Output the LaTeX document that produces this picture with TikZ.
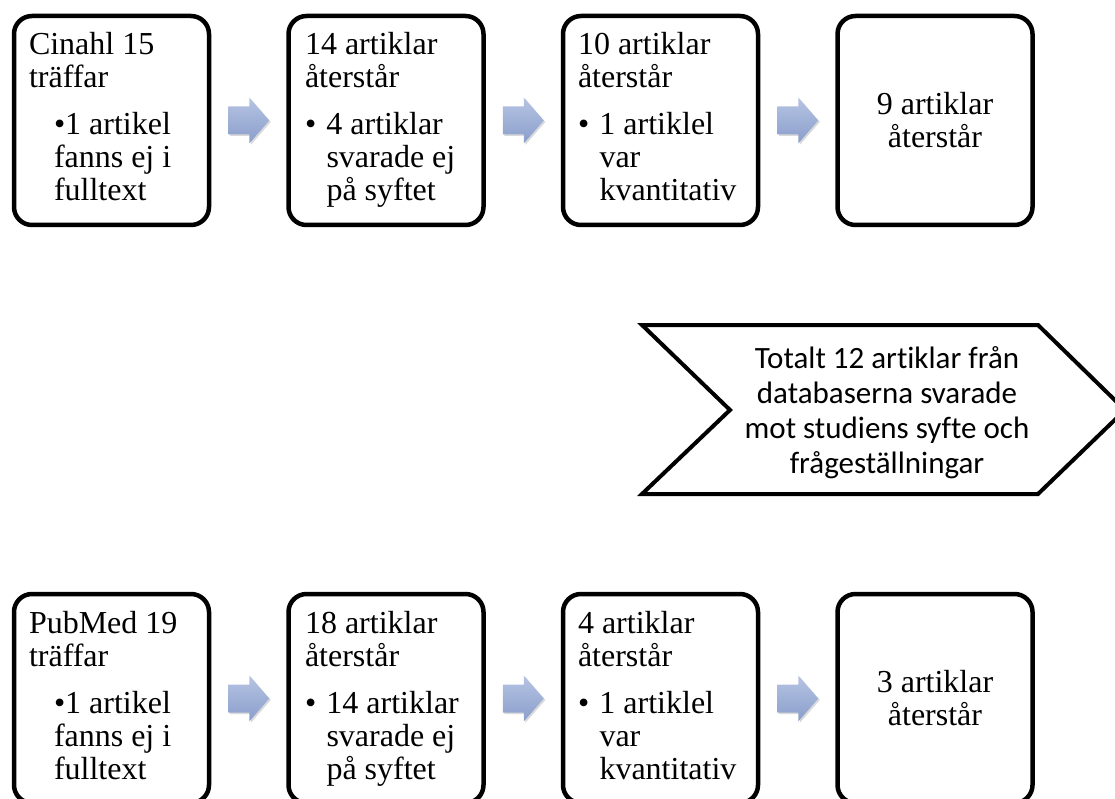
\documentclass[tikz,border=0pt]{standalone}
\usepackage{fontspec}
\setmainfont{Liberation Serif}
\newfontfamily\calibrifont[Ligatures=NoCommon]{Carlito}
\usetikzlibrary{calc,shadows}
\definecolor{arrtop}{RGB}{182,196,227}
\definecolor{arrbot}{RGB}{138,158,203}
\newcommand{\boxfont}{\fontsize{32}{33}\selectfont}
\newcommand{\bulA}[3]{\par\vspace{14pt}\leftskip=25pt •#1\\#2\\#3}
\newcommand{\bulB}[3]{\par\vspace{14pt}\leftskip=21.5pt\hspace*{-21.5pt}\makebox[21.5pt][l]{•}#1\\#2\\#3}
\newcommand{\steptext}[3]{\parbox[t]{185pt}{\boxfont\raggedright #1\\#2#3}}
\tikzset{
  x=1pt, y=-1pt,
  stepbox/.style={draw=black, line width=4.5pt, rounded corners=18pt, minimum width=195pt, minimum height=209pt, inner sep=0pt, outer sep=0pt, fill=white},
  steptxt/.style={anchor=base west, inner sep=0pt, outer sep=0pt},
  endtxt/.style={align=center, inner sep=0pt, font=\boxfont},
  arrowfill/.style={top color=arrtop, bottom color=arrbot, draw=none, drop shadow={shadow xshift=1.5pt, shadow yshift=-1.5pt, opacity=0.25, fill=black!60}},
  barrow/.pic={\path[arrowfill] (-20.5,-14) -- (0.5,-14) -- (0.5,-23) -- (20.5,0) -- (0.5,23) -- (0.5,14) -- (-20.5,14) -- cycle;}
}
\begin{document}
\begin{tikzpicture}
\useasboundingbox (0,0) rectangle (1115,799);
\clip (0,0) rectangle (1115,799);
% top row
\node[stepbox] (t1) at (111.5,120.5) {};
\node[stepbox] (t2) at (386,120.5) {};
\node[stepbox] (t3) at (660.5,120.5) {};
\node[stepbox] (t4) at (935,120.5) {};
\node[steptxt] (t1x) at ($(t1.north west)+(15,39)$) {\steptext{Cinahl 15}{träffar}{\bulA{1 artikel}{fanns ej i}{fulltext}}};
\node[steptxt] (t2x) at ($(t2.north west)+(16.5,39)$) {\steptext{14 artiklar}{återstår}{\bulB{4 artiklar}{svarade ej}{på syftet}}};
\node[steptxt] (t3x) at ($(t3.north west)+(15,39)$) {\steptext{10 artiklar}{återstår}{\bulB{1 artiklel}{var}{kvantitativ}}};
\node[endtxt] (t4x) at (t4.center) {9 artiklar\\återstår};
\path ($(t1.east)!0.5!(t2.west)$) pic {barrow};
\path ($(t2.east)!0.5!(t3.west)$) pic {barrow};
\path ($(t3.east)!0.5!(t4.west)$) pic {barrow};
% bottom row
\node[stepbox] (b1) at (111.5,698.5) {};
\node[stepbox] (b2) at (386,698.5) {};
\node[stepbox] (b3) at (660.5,698.5) {};
\node[stepbox] (b4) at (935,698.5) {};
\node[steptxt] (b1x) at ($(b1.north west)+(15,39)$) {\steptext{PubMed 19}{träffar}{\bulA{1 artikel}{fanns ej i}{fulltext}}};
\node[steptxt] (b2x) at ($(b2.north west)+(16.5,39)$) {\steptext{18 artiklar}{återstår}{\bulB{14 artiklar}{svarade ej}{på syftet}}};
\node[steptxt] (b3x) at ($(b3.north west)+(15,39)$) {\steptext{4 artiklar}{återstår}{\bulB{1 artiklel}{var}{kvantitativ}}};
\node[endtxt] (b4x) at (b4.center) {3 artiklar\\återstår};
\path ($(b1.east)!0.5!(b2.west)$) pic {barrow};
\path ($(b2.east)!0.5!(b3.west)$) pic {barrow};
\path ($(b3.east)!0.5!(b4.west)$) pic {barrow};
% summary chevron
\draw[line width=4pt, miter limit=10] (642,325) -- (1038,325) -- (1125,410) -- (1038,494) -- (642,494) -- (730,410) -- cycle;
\node[align=center, inner sep=0pt, font=\calibrifont\fontsize{31}{35}\selectfont] (sum) at (887,413) {Totalt 12 artiklar från\\databaserna svarade\\mot studiens syfte och\\frågeställningar};
\end{tikzpicture}
\end{document}
